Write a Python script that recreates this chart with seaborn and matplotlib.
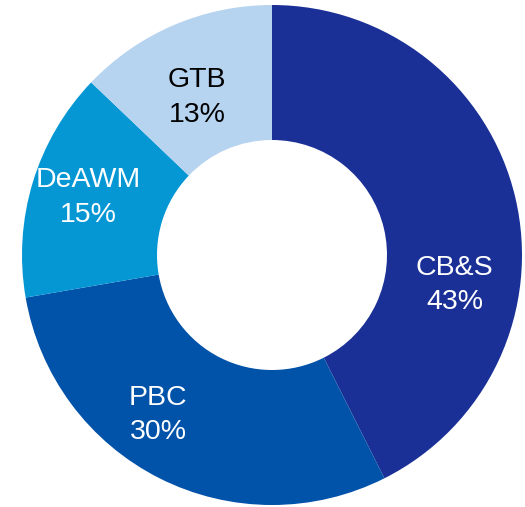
import matplotlib
matplotlib.use("Agg")
import matplotlib.pyplot as plt
import seaborn as sns

sns.set_theme(style="white")
plt.rcParams["font.family"] = ["Liberation Sans", "DejaVu Sans"]

# data
segmentos = ["CB&S", "PBC", "DeAWM", "GTB"]
percentuais = [43, 30, 15, 13]
cores = ["#1a3096", "#0152a9", "#0497d4", "#b6d3f0"]
cores_texto = ["white", "white", "white", "black"]

# label placement (data coords of the pie, radius 1)
pos_rotulos = [(0.73, -0.12), (-0.455, -0.64), (-0.735, 0.23), (-0.30, 0.63)]


def main():
    fig = plt.figure(figsize=(5.25, 5.07), dpi=100)
    ax = fig.add_axes([22 / 525, 2 / 507, 500 / 525, 500 / 507])

    ax.pie(
        percentuais,
        colors=cores,
        startangle=90,
        counterclock=False,
        radius=1,
        wedgeprops=dict(width=0.54, edgecolor="none", linewidth=0),
    )

    for nome, pct, cor, (x, y) in zip(segmentos, percentuais, cores_texto, pos_rotulos):
        ax.text(x, y, f"{nome}\n{pct}%", ha="center", va="center",
                fontsize=20.5, color=cor, linespacing=1.42)

    ax.set_xlim(-1, 1)
    ax.set_ylim(-1, 1)
    ax.set_aspect("auto")
    ax.axis("off")

    fig.savefig("out.png", dpi=100)
    plt.close(fig)


if __name__ == "__main__":
    main()
